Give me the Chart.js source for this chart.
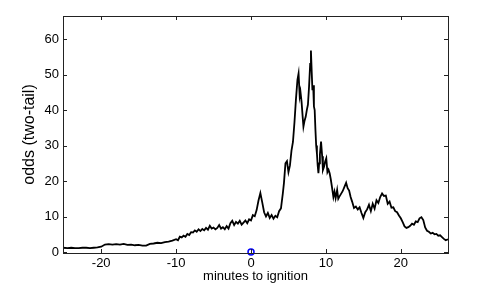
<!DOCTYPE html>
<html>
<head>
<meta charset="utf-8">
<script src="https://cdn.jsdelivr.net/npm/chart.js@4"></script>
<style>
  html, body { margin: 0; padding: 0; background: #fff; }
  #wrap { width: 477px; height: 292px; }
</style>
</head>
<body>
<div id="wrap"><canvas id="myChart" width="477" height="292"></canvas></div>
<script>
// minutes relative to ignition, and the odds
const minutes = [
  -25.1, -24.5, -24, -23.5, -23, -22.5, -22, -21.5, -21, -20.5,
  -20, -19.5, -19, -18.5, -18, -17.5, -17, -16.5, -16, -15.5,
  -15, -14.5, -14, -13.5, -13, -12.5, -12, -11.5, -11, -10.5,
  -10, -9.75, -9.5, -9.25, -9, -8.75, -8.5, -8.25, -8, -7.75,
  -7.5, -7.25, -7, -6.75, -6.5, -6.25, -6, -5.75, -5.5, -5.25,
  -5, -4.75, -4.5, -4.25, -4, -3.75, -3.5, -3.25, -3, -2.75,
  -2.5, -2.25, -2, -1.75, -1.5, -1.25, -1, -0.75, -0.5, -0.25,
  0, 0.25, 0.5, 0.75, 1, 1.25, 1.5, 1.75, 2, 2.25,
  2.5, 2.75, 3, 3.25, 3.5, 3.75, 4, 4.25, 4.4, 4.6,
  4.8, 5, 5.2, 5.4, 5.6, 5.8, 6, 6.2, 6.35, 6.5,
  6.6, 6.75, 6.9, 7, 7.15, 7.3, 7.45, 7.6, 7.75, 7.9,
  8, 8.1, 8.2, 8.3, 8.4, 8.5, 8.6, 8.7, 8.8, 8.9,
  9, 9.1, 9.2, 9.35, 9.5, 9.6, 9.75, 9.9, 10.05, 10.2,
  10.35, 10.5, 10.65, 10.8, 11, 11.15, 11.3, 11.5, 11.65, 11.8,
  12, 12.25, 12.5, 12.7, 12.9, 13.1, 13.3, 13.5, 13.75, 14,
  14.25, 14.5, 14.75, 15, 15.25, 15.5, 15.75, 16, 16.25, 16.5,
  16.75, 17, 17.25, 17.5, 17.75, 18, 18.25, 18.5, 18.75, 19,
  19.25, 19.5, 19.75, 20, 20.25, 20.5, 20.75, 21, 21.25, 21.5,
  21.75, 22, 22.25, 22.5, 22.75, 23, 23.25, 23.5, 23.75, 24,
  24.25, 24.5, 24.75, 25, 25.25, 25.5, 25.75, 26, 26.3
];
const odds = [
  1.2, 1.1, 1.2, 1.1, 1.1, 1.2, 1.2, 1.1, 1.2, 1.3,
  1.5, 2.1, 2.2, 2.1, 2.2, 2.1, 2.3, 2.0, 2.1, 1.9,
  2.0, 1.8, 1.8, 2.3, 2.4, 2.6, 2.5, 2.8, 2.9, 3.2,
  3.6, 3.3, 4.3, 4.1, 4.6, 4.3, 5.1, 4.8, 5.6, 5.5,
  6.1, 5.7, 6.4, 5.9, 6.5, 6.1, 6.8, 6.3, 7.4, 6.6,
  6.9, 6.4, 6.8, 7.6, 6.6, 7.0, 6.4, 7.3, 6.6, 8.1,
  8.8, 7.6, 8.5, 8.0, 8.8, 7.7, 8.3, 8.9, 8.1, 9.2,
  8.9, 10.4, 10.1, 11.8, 14.5, 16.6, 14.0, 11.2, 10.0, 11.0,
  9.6, 10.4, 9.4, 10.2, 9.8, 11.5, 12.3, 16.5, 19.5, 25.0,
  25.6, 22.5, 24.4, 28.5, 31.0, 36.5, 43.0, 48.5, 50.3, 44.0,
  45.2, 42.3, 38.0, 35.3, 37.0, 38.1, 40.0, 41.5, 46.6, 53.0,
  56.8, 51.0, 45.6, 47.0, 41.0, 40.0, 34.5, 30.0, 27.8, 24.5,
  22.2, 25.0, 27.5, 31.1, 27.0, 23.1, 24.0, 25.5, 26.4, 22.5,
  23.2, 22.2, 20.5, 18.4, 15.5, 17.0, 15.2, 17.5, 15.0, 15.6,
  16.3, 17.2, 18.5, 19.5, 18.0, 17.3, 15.5, 14.2, 12.4, 12.8,
  12.0, 12.6, 11.0, 9.6, 11.2, 12.0, 13.3, 11.5, 13.6, 12.2,
  14.6, 13.8, 15.5, 16.5, 15.8, 15.9, 13.6, 14.2, 12.5, 12.6,
  11.5, 11.2, 10.3, 9.5, 8.4, 7.2, 6.8, 7.0, 7.4, 8.0,
  7.7, 8.6, 8.4, 9.5, 9.8, 9.0, 6.9, 6.0, 5.7, 5.2,
  5.4, 5.0, 5.1, 4.6, 4.7, 4.2, 3.7, 3.3, 3.6
];
const ignition = [{ x: 0, y: 0 }];
const xTicks = [-20, -10, 0, 10, 20];
const yTicks = [0, 10, 20, 30, 40, 50, 60];

const tickFont = { family: "'Liberation Sans', Arial, sans-serif", size: 13 };

// box round the plot with inward tick marks on all four sides
const framePlugin = {
  id: "frame",
  afterDatasetsDraw(chart) {
    const { ctx, chartArea: a, scales } = chart;
    ctx.save();
    ctx.strokeStyle = "#222";
    ctx.lineWidth = 1;
    ctx.strokeRect(a.left + 0.5, a.top + 0.5, a.right - a.left, a.bottom - a.top);
    ctx.beginPath();
    xTicks.forEach((v) => {
      const px = Math.round(scales.x.getPixelForValue(v)) + 0.5;
      ctx.moveTo(px, a.bottom); ctx.lineTo(px, a.bottom - 4);
      ctx.moveTo(px, a.top); ctx.lineTo(px, a.top + 4);
    });
    yTicks.forEach((v) => {
      const py = Math.round(scales.y.getPixelForValue(v)) + 0.5;
      ctx.moveTo(a.left, py); ctx.lineTo(a.left + 4, py);
      ctx.moveTo(a.right, py); ctx.lineTo(a.right - 4, py);
    });
    ctx.stroke();
    ctx.restore();
  },
};

new Chart(document.getElementById("myChart"), {
  type: "scatter",
  data: {
    datasets: [
      {
        data: minutes.map((m, i) => ({ x: m, y: odds[i] })),
        showLine: true,
        borderColor: "#000",
        borderWidth: 1.8,
        pointRadius: 0,
        tension: 0,
      },
      {
        data: ignition,
        pointStyle: "circle",
        pointRadius: 3,
        pointBorderColor: "#0000ff",
        pointBackgroundColor: "rgba(0,0,0,0)",
        pointBorderWidth: 1.5,
        clip: false,
      },
    ],
  },
  options: {
    responsive: false,
    animation: false,
    layout: { padding: { left: 0, top: 16, right: 29, bottom: 0 } },
    plugins: { legend: { display: false }, tooltip: { enabled: false } },
    scales: {
      x: {
        type: "linear",
        min: -25.1,
        max: 26.3,
        grid: { display: false, drawTicks: false },
        border: { display: false },
        afterBuildTicks: (s) => { s.ticks = xTicks.map((v) => ({ value: v })); },
        afterFit: (s) => { s.height = 39; },
        ticks: { color: "#000", font: tickFont, padding: 3, maxRotation: 0, callback: (v) => String(v) },
        title: {
          display: true,
          text: "minutes to ignition",
          color: "#000",
          font: { family: "'Liberation Sans', Arial, sans-serif", size: 13 },
          padding: { top: 0, bottom: 8 },
        },
      },
      y: {
        type: "linear",
        min: -0.28,
        max: 66.5,
        grid: { display: false, drawTicks: false },
        border: { display: false },
        afterBuildTicks: (s) => { s.ticks = yTicks.map((v) => ({ value: v })); },
        afterFit: (s) => { s.width = 63; },
        ticks: { color: "#000", font: tickFont, padding: 4, callback: (v) => String(v) },
        title: {
          display: true,
          text: "odds (two-tail)",
          color: "#000",
          font: { family: "'Liberation Sans', Arial, sans-serif", size: 16 },
          padding: { top: 20, bottom: 0 },
        },
      },
    },
  },
  plugins: [framePlugin],
});
</script>
</body>
</html>
